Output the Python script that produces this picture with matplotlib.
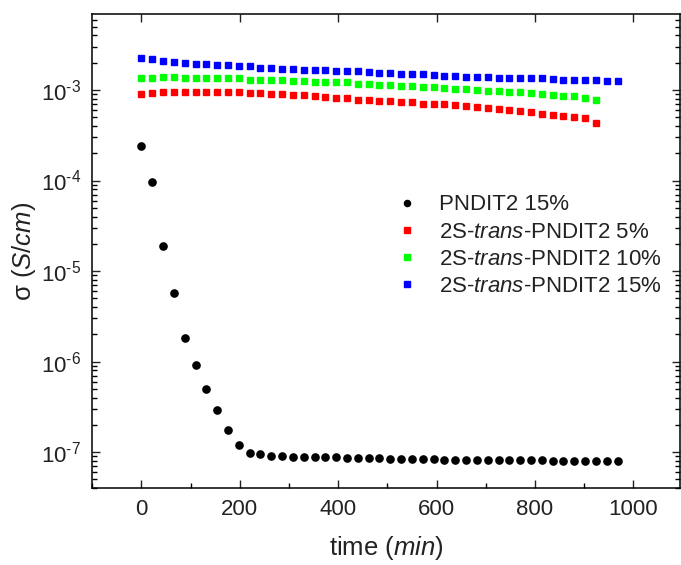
import matplotlib

matplotlib.use("Agg")
import matplotlib.pyplot as plt
import numpy as np
from matplotlib.ticker import FuncFormatter, LogLocator, MultipleLocator, NullFormatter

plt.rcParams["font.family"] = ["Liberation Sans", "DejaVu Sans"]
plt.rcParams["mathtext.fontset"] = "custom"
plt.rcParams["mathtext.rm"] = "Liberation Sans"
plt.rcParams["mathtext.it"] = "Liberation Sans:italic"

# time in minutes, one reading every 22 min
TIME_LONG = [0, 22, 44, 66, 88, 110, 132, 154, 176, 198, 220, 242, 264, 286, 308,
             330, 352, 374, 396, 418, 440, 462, 484, 506, 528, 550, 572, 594, 616,
             638, 660, 682, 704, 726, 748, 770, 792, 814, 836, 858, 880, 902, 924,
             946, 968]
TIME_SHORT = TIME_LONG[:43]

# PNDIT2 15% (S/cm)
PNDIT2_15 = [2.4e-4, 9.7e-5, 1.87e-5, 5.75e-6, 1.83e-6, 9.1e-7, 5.0e-7, 2.96e-7,
             1.75e-7, 1.19e-7, 9.9e-8, 9.5e-8, 9.2e-8, 9.1e-8, 8.96e-8, 8.9e-8,
             8.9e-8, 8.8e-8, 8.8e-8, 8.7e-8, 8.65e-8, 8.6e-8, 8.6e-8, 8.5e-8,
             8.45e-8, 8.45e-8, 8.37e-8, 8.37e-8, 8.3e-8, 8.3e-8, 8.3e-8, 8.23e-8,
             8.23e-8, 8.23e-8, 8.16e-8, 8.16e-8, 8.16e-8, 8.16e-8, 8.1e-8, 8.1e-8,
             8.1e-8, 8.1e-8, 8.1e-8, 8.1e-8, 8.1e-8]

TRANS_5 = [9.1e-4, 9.35e-4, 9.4e-4, 9.4e-4, 9.4e-4, 9.4e-4, 9.4e-4, 9.4e-4, 9.4e-4,
           9.4e-4, 9.35e-4, 9.2e-4, 9.05e-4, 9.05e-4, 8.73e-4, 8.73e-4, 8.5e-4,
           8.42e-4, 8.2e-4, 8.2e-4, 7.85e-4, 7.78e-4, 7.6e-4, 7.53e-4, 7.35e-4,
           7.28e-4, 7.06e-4, 6.95e-4, 6.95e-4, 6.78e-4, 6.72e-4, 6.5e-4, 6.3e-4,
           6.15e-4, 6.05e-4, 5.86e-4, 5.67e-4, 5.48e-4, 5.3e-4, 5.17e-4, 5.0e-4,
           4.85e-4, 4.35e-4]

TRANS_10 = [1.35e-3, 1.36e-3, 1.38e-3, 1.38e-3, 1.37e-3, 1.36e-3, 1.36e-3, 1.35e-3,
            1.35e-3, 1.35e-3, 1.3e-3, 1.3e-3, 1.3e-3, 1.29e-3, 1.26e-3, 1.25e-3,
            1.24e-3, 1.23e-3, 1.22e-3, 1.22e-3, 1.17e-3, 1.17e-3, 1.14e-3, 1.13e-3,
            1.1e-3, 1.1e-3, 1.09e-3, 1.08e-3, 1.06e-3, 1.03e-3, 1.03e-3, 1.0e-3,
            9.85e-4, 9.75e-4, 9.5e-4, 9.4e-4, 9.25e-4, 9.0e-4, 8.85e-4, 8.6e-4,
            8.5e-4, 8.2e-4, 7.8e-4]

TRANS_15 = [2.28e-3, 2.2e-3, 2.07e-3, 2.02e-3, 2.0e-3, 1.95e-3, 1.95e-3, 1.89e-3,
            1.89e-3, 1.83e-3, 1.83e-3, 1.77e-3, 1.77e-3, 1.71e-3, 1.71e-3, 1.66e-3,
            1.65e-3, 1.65e-3, 1.6e-3, 1.6e-3, 1.6e-3, 1.56e-3, 1.55e-3, 1.53e-3,
            1.49e-3, 1.49e-3, 1.49e-3, 1.45e-3, 1.44e-3, 1.44e-3, 1.39e-3, 1.39e-3,
            1.39e-3, 1.37e-3, 1.35e-3, 1.35e-3, 1.34e-3, 1.34e-3, 1.31e-3, 1.3e-3,
            1.29e-3, 1.29e-3, 1.29e-3, 1.27e-3, 1.26e-3]

LABELS = ["PNDIT2 15%",
          r"2S-$\it{trans}$-PNDIT2 5%",
          r"2S-$\it{trans}$-PNDIT2 10%",
          r"2S-$\it{trans}$-PNDIT2 15%"]


def decade_label(value, _pos):
    # Origin style: plain hyphen in the exponent
    exp = int(round(np.log10(value)))
    return r"10$^{\text{-}%d}$" % abs(exp) if exp < 0 else r"10$^{%d}$" % exp


fig = plt.figure(figsize=(6.81, 5.65), dpi=100)
ax = fig.add_axes([0.1355, 0.1358, 0.863, 0.8394])

ax.plot(TIME_LONG, PNDIT2_15, "o", color="black", markersize=5.2, linestyle="none", label=LABELS[0])
ax.plot(TIME_SHORT, TRANS_5, "s", color="#ff0000", markersize=4.8, linestyle="none", label=LABELS[1])
ax.plot(TIME_SHORT, TRANS_10, "s", color="#00ff00", markersize=4.8, linestyle="none", label=LABELS[2])
ax.plot(TIME_LONG, TRANS_15, "s", color="#0000ff", markersize=4.8, linestyle="none", label=LABELS[3])

ax.set_yscale("log")
ax.set_xlim(-100, 1095)
ax.set_ylim(4e-8, 6.9e-3)
ax.xaxis.set_major_locator(MultipleLocator(200))
ax.xaxis.set_minor_locator(MultipleLocator(100))
ax.yaxis.set_major_locator(LogLocator(base=10, numticks=20))
ax.yaxis.set_major_formatter(FuncFormatter(decade_label))
ax.yaxis.set_minor_locator(LogLocator(base=10, subs=range(2, 10), numticks=20))
ax.yaxis.set_minor_formatter(NullFormatter())

for spine in ax.spines.values():
    spine.set_linewidth(1.1)
ax.tick_params(which="both", direction="in", top=True, right=True, width=1.0)
ax.tick_params(which="major", length=6, labelsize=16, pad=8, colors="#222222")
ax.tick_params(which="minor", length=3.5)
ax.tick_params(axis="x", which="minor", top=False)

ax.set_xlabel(r"time $\it{(min)}$", fontsize=18.5, labelpad=10, color="#222222")
ax.set_ylabel(r"σ $\it{(S/cm)}$", fontsize=18.5, labelpad=2, color="#222222")

ax.legend(loc="upper left", bbox_to_anchor=(0.478, 0.662), frameon=False, fontsize=16,
          handletextpad=0.85, labelspacing=0.28, markerscale=0.85, handlelength=1.2,
          labelcolor="#222222")

fig.savefig("out.png", dpi=100)
